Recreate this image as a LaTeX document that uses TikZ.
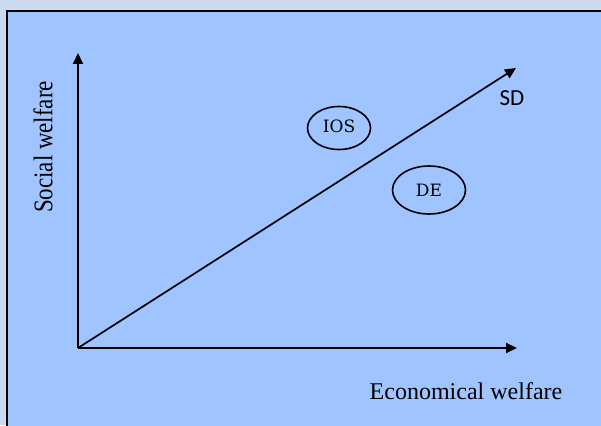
\documentclass[tikz,border=0pt]{standalone}
\usepackage{fontspec}
\setmainfont{Liberation Serif}
\newfontfamily\slabfont{DejaVu Serif}
\newfontfamily\sdfont{Carlito}
\usetikzlibrary{arrows.meta,shapes.geometric}
\definecolor{outerbg}{RGB}{202,218,240}
\definecolor{innerbg}{RGB}{160,196,255}
\begin{document}
\begin{tikzpicture}[x=1pt,y=-1pt,
  axisline/.style={line width=1.9pt,-{Triangle[length=11pt,width=10pt]}},
  region/.style={ellipse,draw,line width=1.6pt,inner sep=0pt},
  lbl/.style={inner sep=0pt,anchor=center}]
\useasboundingbox (0,0) rectangle (601,425);
\fill[outerbg] (0,0) rectangle (601,425);
\draw[line width=1.8pt,fill=innerbg] (7,11) rectangle (612,436);
\coordinate (O) at (78,348);
\coordinate (Ytop) at (78,53);
\coordinate (Xend) at (517,348);
\coordinate (Dend) at (516,68);
\draw[axisline] (O) -- (Ytop);
\draw[axisline] (O) -- (Xend);
\draw[axisline,line width=1.7pt] (O) -- (Dend);
\node[region,minimum width=63pt,minimum height=43pt,font=\slabfont\fontsize{17}{17}\selectfont] (ios) at (339,128)
  {\raisebox{3pt}{IOS}};
\node[region,minimum width=73pt,minimum height=48pt,font=\slabfont\fontsize{17}{17}\selectfont] (de) at (429,190)
  {DE};
\node[lbl,font=\sdfont\fontsize{23}{23}\selectfont] (sd) at (512,98) {SD};
\node[lbl,rotate=90] (ylab) at (43,147)
  {\scalebox{0.85}[1]{\fontsize{27}{27}\selectfont Social welfare}};
\node[lbl,anchor=base,font=\fontsize{24}{24}\selectfont] (xlab) at (466,399)
  {Economical welfare};
\end{tikzpicture}
\end{document}
